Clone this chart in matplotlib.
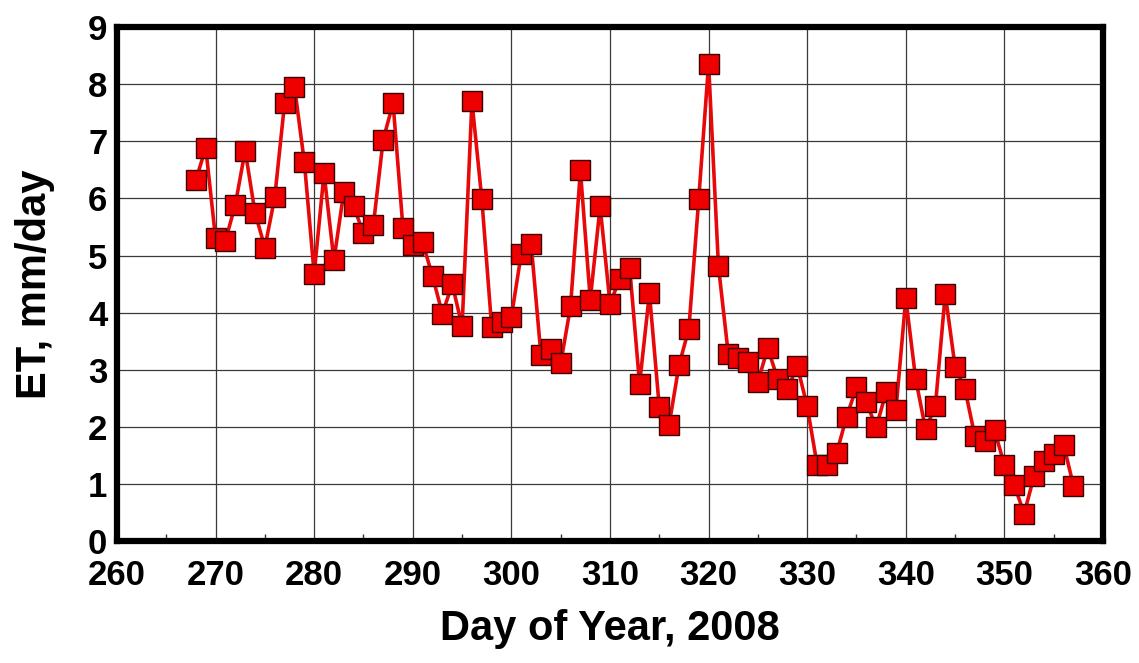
import matplotlib
matplotlib.use("Agg")
import matplotlib.pyplot as plt
from matplotlib.ticker import MultipleLocator

days = list(range(268, 358))
et = [6.32, 6.89, 5.30, 5.26, 5.89, 6.84, 5.75, 5.14, 6.02, 7.67,
      7.96, 6.64, 4.68, 6.44, 4.92, 6.11, 5.86, 5.39, 5.53, 7.03,
      7.67, 5.49, 5.18, 5.23, 4.64, 3.98, 4.50, 3.76, 7.70, 5.99,
      3.75, 3.83, 3.93, 5.03, 5.21, 3.25, 3.36, 3.11, 4.11, 6.49,
      4.23, 5.86, 4.16, 4.59, 4.78, 2.75, 4.34, 2.34, 2.04, 3.08,
      3.72, 5.99, 8.36, 4.81, 3.27, 3.21, 3.14, 2.79, 3.38, 2.84,
      2.66, 3.06, 2.36, 1.34, 1.33, 1.55, 2.18, 2.69, 2.43, 1.99,
      2.61, 2.30, 4.25, 2.84, 1.96, 2.36, 4.33, 3.05, 2.66, 1.84,
      1.76, 1.94, 1.33, 0.98, 0.48, 1.13, 1.41, 1.52, 1.69, 0.97]

x_ticks = [260, 270, 280, 290, 300, 310, 320, 330, 340, 350, 360]
y_ticks = [0, 1, 2, 3, 4, 5, 6, 7, 8, 9]

plt.rcParams['font.family'] = ['Liberation Sans', 'DejaVu Sans']
plt.rcParams['font.weight'] = 'bold'

fig = plt.figure(figsize=(11.39, 6.63), dpi=100)
ax = fig.add_axes([0.1027, 0.184, 0.8657, 0.775])

ax.plot(days, et, color='#e8080a', lw=2.6, marker='s', markersize=15,
        markerfacecolor='#ee0000', markeredgecolor='#3a0000', markeredgewidth=1.0,
        zorder=3, clip_on=False)

ax.set_xlim(260, 360)
ax.set_ylim(0, 9)
ax.set_xticks(x_ticks)
ax.set_yticks(y_ticks)
ax.xaxis.set_minor_locator(MultipleLocator(5))
ax.grid(True, which='major', color='#3a3a3a', lw=0.9, zorder=1)
ax.tick_params(which='major', length=0, labelsize=25, pad=7)
ax.tick_params(axis='x', which='major', pad=13)
ax.tick_params(axis='x', which='minor', direction='in', length=5, width=1, color='#333333', bottom=True, top=False)
ax.tick_params(axis='y', which='minor', left=False)
for lab in ax.get_xticklabels() + ax.get_yticklabels():
    lab.set_fontweight('bold')
for s in ax.spines.values():
    s.set_linewidth(4.5)
    s.set_color('black')
    s.set_zorder(5)

ax.set_xlabel('Day of Year, 2008', fontsize=30, fontweight='bold', labelpad=12)
ax.set_ylabel('ET, mm/day', fontsize=30, fontweight='bold', labelpad=24)

fig.savefig('out.png', dpi=100)
